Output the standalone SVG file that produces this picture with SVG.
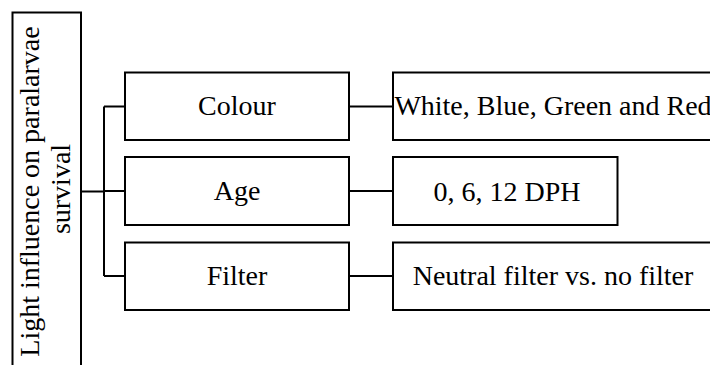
<svg xmlns="http://www.w3.org/2000/svg" width="710" height="365" viewBox="0 0 710 365">
<style>
.box{fill:#fff;stroke:#000;stroke-width:2}
.ln{fill:none;stroke:#000;stroke-width:2}
.t{font-family:'Liberation Serif','Times New Roman','DejaVu Serif',serif;font-size:28px;fill:#000;text-anchor:middle}
</style>
<rect width="710" height="365" fill="#fff"/>
<g id="connectors">
<path class="ln" d="M81 191.5H104M104 106.5V276M104 106.5H125M104 191H125M104 276H125M349 106.5H393M349 191H393M349 276H393"/>
</g>
<g id="root">
<rect class="box" x="12.5" y="12.5" width="68.5" height="370"/>
<text class="t" font-family="Liberation Serif, serif" transform="translate(38.5,191.5) rotate(-90)">Light influence on paralarvae</text>
<text class="t" font-family="Liberation Serif, serif" transform="translate(69.5,189) rotate(-90)">survival</text>
</g>
<g id="colour">
<rect class="box" x="125" y="72.5" width="224" height="67.5"/>
<text class="t" font-family="Liberation Serif, serif" x="237" y="115">Colour</text>
</g>
<g id="age">
<rect class="box" x="125" y="157" width="224" height="68"/>
<text class="t" font-family="Liberation Serif, serif" x="237" y="200">Age</text>
</g>
<g id="filter">
<rect class="box" x="125" y="242.5" width="224" height="67.5"/>
<text class="t" font-family="Liberation Serif, serif" x="237" y="285">Filter</text>
</g>
<g id="colour-values">
<rect class="box" x="393" y="72.5" width="320" height="67.5"/>
<text class="t" font-family="Liberation Serif, serif" x="553" y="115">White, Blue, Green and Red</text>
</g>
<g id="age-values">
<rect class="box" x="393" y="157" width="224.5" height="68"/>
<text class="t" font-family="Liberation Serif, serif" x="507" y="201">0, 6, 12 DPH</text>
</g>
<g id="filter-values">
<rect class="box" x="393" y="242.5" width="320" height="67.5"/>
<text class="t" font-family="Liberation Serif, serif" x="553" y="285">Neutral filter vs. no filter</text>
</g>
</svg>
